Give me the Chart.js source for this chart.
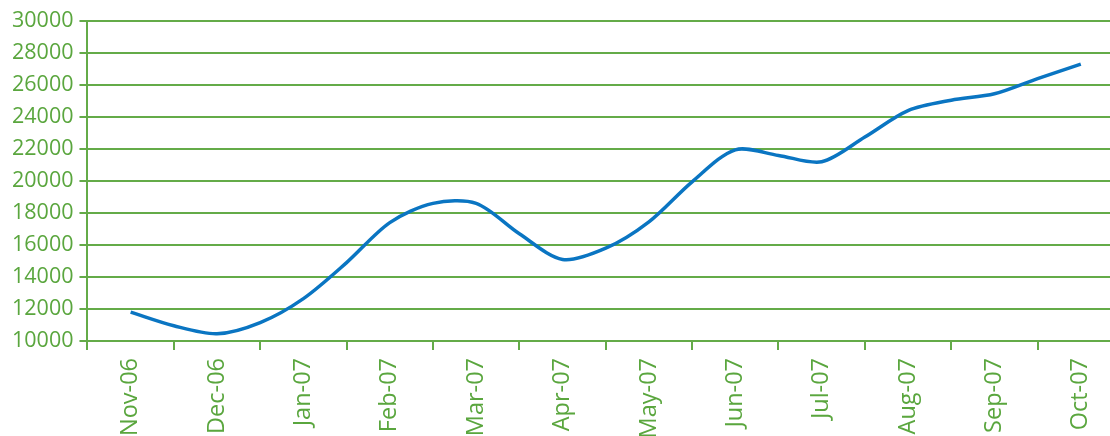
<!DOCTYPE html>
<html>
<head>
<meta charset="utf-8">
<script src="https://cdn.jsdelivr.net/npm/chart.js@4"></script>
<style>
  html, body { margin: 0; padding: 0; background: #fff; overflow: hidden; }
  #wrap { width: 1124px; height: 436px; }
</style>
</head>
<body>
<div id="wrap"><canvas id="volChart" width="1124" height="436"></canvas></div>
<script>
// month labels on the axis
const months = ['Nov-06', 'Dec-06', 'Jan-07', 'Feb-07', 'Mar-07', 'Apr-07',
  'May-07', 'Jun-07', 'Jul-07', 'Aug-07', 'Sep-07', 'Oct-07'];
// readings are twice a month (position in months from Nov-06)
const readingPos = [0, 0.5, 1, 1.5, 2, 2.5, 3, 3.5, 4, 4.5, 5, 5.5,
  6, 6.5, 7, 7.5, 8, 8.5, 9, 9.5, 10, 10.5, 11];
const readings = [11800, 10950, 10450, 11150, 12650, 14900, 17400, 18600, 18600, 16700, 15100, 15800,
  17450, 19950, 21950, 21600, 21200, 22750, 24400, 25050, 25450, 26400, 27300];
const yTicks = [10000, 12000, 14000, 16000, 18000, 20000, 22000, 24000, 26000, 28000, 30000];

const green = '#5aa63e';
const gridGreen = '#64ab48';

const ctx = document.getElementById('volChart').getContext('2d');
const volChart = new Chart(ctx, {
  type: 'line',
  data: {
    labels: months,
    datasets: [{
      data: readingPos.map((p, i) => ({ x: p, y: readings[i] })),
      xAxisID: 'xd',
      borderColor: '#0a75c2',
      borderWidth: 3.5,
      pointRadius: 0,
      fill: false,
      tension: 0.3
    }]
  },
  options: {
    responsive: false,
    animation: false,
    layout: { padding: { top: 21, left: 6, right: 0, bottom: 0 } },
    plugins: {
      legend: { display: false },
      tooltip: { enabled: false }
    },
    scales: {
      x: {
        type: 'category',
        position: 'bottom',
        offset: true,
        afterFit: axis => { axis.height = 95; },
        grid: { offset: true, drawOnChartArea: false, drawTicks: true, tickLength: 9, color: gridGreen, lineWidth: 2 },
        border: { color: gridGreen, width: 2 },
        ticks: { color: green, font: { family: 'Open Sans', size: 23.5 }, minRotation: 90, maxRotation: 90, padding: 8, autoSkip: false }
      },
      xd: {
        type: 'linear',
        display: false,
        min: -0.5,
        max: 11.5
      },
      y: {
        min: 10000,
        max: 30000,
        afterBuildTicks: axis => { axis.ticks = yTicks.map(v => ({ value: v })); },
        grid: { color: gridGreen, lineWidth: 2, tickLength: 8 },
        border: { color: gridGreen, width: 2 },
        ticks: { color: green, font: { family: 'Open Sans', size: 21.5 }, padding: 6, callback: v => String(v) }
      }
    }
  }
});
</script>
</body>
</html>
